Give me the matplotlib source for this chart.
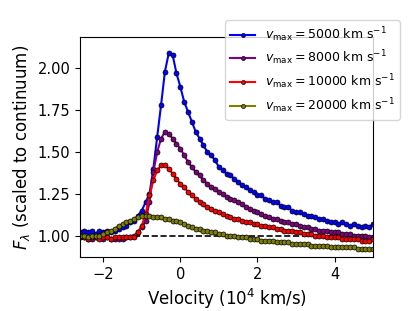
import numpy as np
import matplotlib.pyplot as plt

# velocity grid (10^4 km/s)
velocity = np.round(np.arange(-2.6, 5.001, 0.1), 2)

flux_5000 = [1.02, 1.03, 1.02, 1.03, 1.01, 1.03, 1.02, 1.03, 1.02, 1.03,
             1.04, 1.05, 1.06, 1.08, 1.09, 1.12, 1.15, 1.20, 1.25, 1.40,
             1.59, 1.78, 1.98, 2.09, 2.08, 1.97, 1.89, 1.80, 1.74, 1.68,
             1.62, 1.58, 1.54, 1.50, 1.48, 1.45, 1.41, 1.39, 1.37, 1.36,
             1.34, 1.32, 1.30, 1.29, 1.27, 1.26, 1.24, 1.24, 1.22, 1.21,
             1.20, 1.20, 1.18, 1.17, 1.17, 1.15, 1.14, 1.14, 1.13, 1.12,
             1.12, 1.11, 1.10, 1.10, 1.09, 1.08, 1.08, 1.07, 1.08, 1.07,
             1.06, 1.07, 1.06, 1.05, 1.06, 1.05, 1.07]

flux_8000 = [0.99, 0.99, 0.98, 0.98, 0.99, 0.99, 0.98, 0.99, 0.98, 0.98,
             0.98, 0.98, 0.99, 0.99, 1.00, 1.02, 1.05, 1.09, 1.20, 1.38,
             1.50, 1.58, 1.62, 1.61, 1.58, 1.55, 1.52, 1.48, 1.44, 1.41,
             1.38, 1.36, 1.33, 1.31, 1.29, 1.28, 1.26, 1.25, 1.23, 1.22,
             1.21, 1.20, 1.19, 1.17, 1.16, 1.15, 1.14, 1.13, 1.12, 1.11,
             1.10, 1.10, 1.09, 1.08, 1.08, 1.07, 1.07, 1.06, 1.05, 1.05,
             1.04, 1.04, 1.03, 1.03, 1.03, 1.02, 1.02, 1.02, 1.01, 1.01,
             1.01, 1.00, 1.00, 1.00, 1.00, 0.99, 0.99]

flux_10000 = [0.99, 0.99, 0.98, 0.99, 0.99, 0.98, 0.99, 0.99, 0.98, 0.99,
              0.99, 0.99, 0.99, 0.99, 0.99, 1.02, 1.06, 1.13, 1.24, 1.33,
              1.39, 1.42, 1.42, 1.40, 1.37, 1.34, 1.31, 1.29, 1.26, 1.24,
              1.22, 1.20, 1.19, 1.17, 1.16, 1.15, 1.14, 1.13, 1.12, 1.11,
              1.10, 1.10, 1.09, 1.08, 1.08, 1.07, 1.07, 1.06, 1.06, 1.05,
              1.05, 1.04, 1.04, 1.03, 1.03, 1.03, 1.02, 1.02, 1.01, 1.01,
              1.01, 1.00, 1.00, 1.00, 0.99, 0.99, 0.99, 0.99, 0.98, 0.98,
              0.98, 0.98, 0.98, 0.97, 0.97, 0.97, 0.98]

flux_20000 = [1.00, 1.00, 0.99, 1.00, 1.00, 1.00, 1.01, 1.02, 1.03, 1.04,
              1.06, 1.07, 1.08, 1.09, 1.10, 1.11, 1.12, 1.12, 1.12, 1.11,
              1.11, 1.11, 1.10, 1.10, 1.09, 1.09, 1.08, 1.07, 1.06, 1.05,
              1.04, 1.04, 1.03, 1.03, 1.02, 1.02, 1.01, 1.01, 1.00, 1.00,
              1.00, 0.99, 0.99, 0.99, 0.98, 0.98, 0.98, 0.97, 0.97, 0.97,
              0.97, 0.96, 0.96, 0.96, 0.96, 0.95, 0.95, 0.95, 0.95, 0.95,
              0.94, 0.94, 0.94, 0.94, 0.94, 0.93, 0.93, 0.93, 0.93, 0.93,
              0.93, 0.93, 0.92, 0.92, 0.92, 0.92, 0.92]

vmax_labels = ["5000", "8000", "10000", "20000"]
colors = ["blue", "purple", "red", "olive"]
series = [flux_5000, flux_8000, flux_10000, flux_20000]

fig = plt.figure(figsize=(4.15, 3.11), dpi=100)
ax = fig.add_axes([0.193, 0.174, 0.706, 0.707])

ax.hlines(1.0, -1.2, 5.0, colors="black", linestyles="--", linewidth=1.2, zorder=1)

for flux, c, lab in zip(series, colors, vmax_labels):
    ax.plot(velocity, flux, color=c, lw=1.5, marker="o", ms=3.6,
            mec="black", mew=0.5,
            label=r"$v_{\rm max} = $" + lab + r" km s$^{-1}$")

ax.set_xlim(-2.6, 5.0)
ax.set_ylim(0.873, 2.187)
ax.set_yticks([1.00, 1.25, 1.50, 1.75, 2.00])
ax.tick_params(labelsize=10.5)
ax.set_xlabel(r"Velocity (10$^4$ km/s)", fontsize=12)
ax.set_ylabel(r"$F_\lambda$ (scaled to continuum)", fontsize=12)

fig.legend(loc="upper left", bbox_to_anchor=(225 / 415, 1 - 20 / 311),
           fontsize=9, borderaxespad=0, handlelength=2.0,
           labelspacing=0.4, markerscale=0.8)

fig.savefig("out.png", dpi=100)
